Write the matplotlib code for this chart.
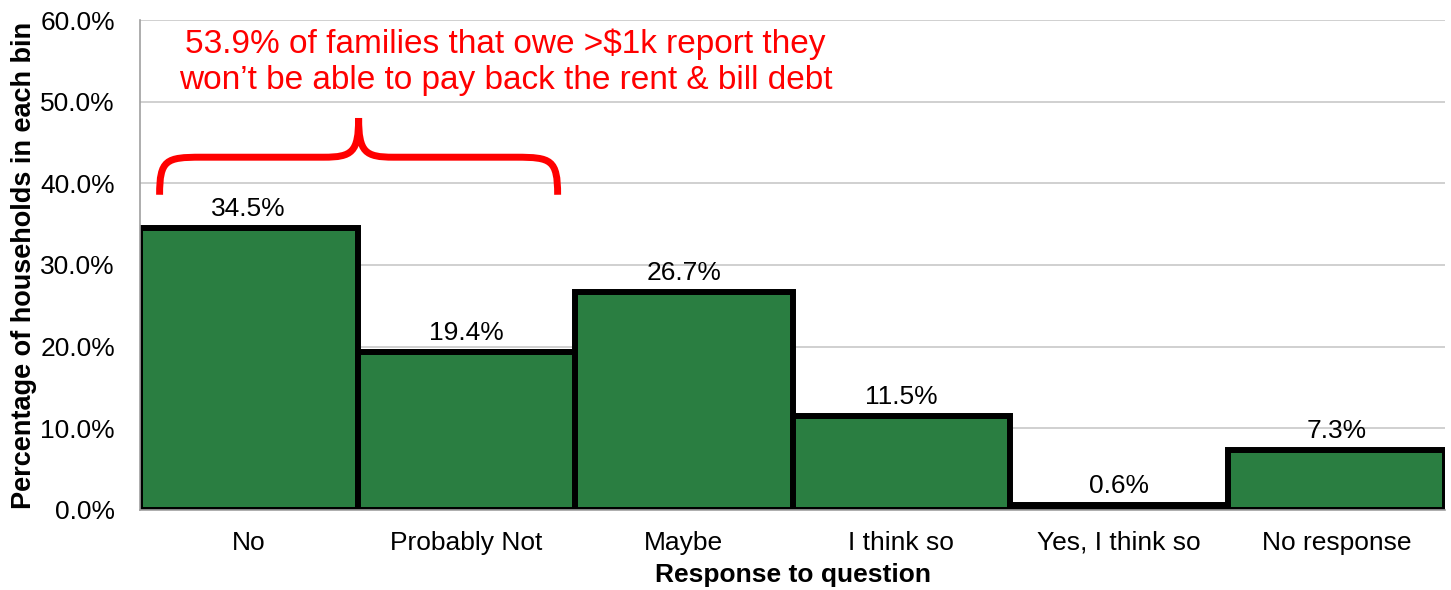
import numpy as np
import matplotlib
matplotlib.use('Agg')
import matplotlib.pyplot as plt
from matplotlib.path import Path
from matplotlib.patches import PathPatch

plt.rcParams['font.family'] = ['Liberation Sans', 'DejaVu Sans']

categories = ['No', 'Probably Not', 'Maybe', 'I think so', 'Yes, I think so', 'No response']
percent = [34.5, 19.4, 26.7, 11.5, 0.6, 7.3]
note = '53.9% of families that owe >$1k report they\nwon\u2019t be able to pay back the rent & bill debt'

fig = plt.figure(figsize=(14.51, 5.90), dpi=100)
ax = fig.add_axes([0.0965, 0.1356, 0.8994, 0.8305])

x = np.arange(len(categories))
bars = ax.bar(x, percent, width=1.0, color='#2A7E41', edgecolor='black', linewidth=4.3, zorder=3)

for xi, v in zip(x, percent):
    ax.annotate('%.1f%%' % v, (xi, v), xytext=(0, 5), textcoords='offset points',
                ha='center', va='bottom', fontsize=19, zorder=4)

ax.set_xlim(-0.5, len(categories) - 0.5)
ax.set_ylim(0, 60)
ax.set_yticks(np.arange(0, 61, 10))
ax.set_yticklabels(['%.1f%%' % t for t in np.arange(0, 61, 10)], fontsize=19)
ax.set_xticks(x)
ax.set_xticklabels(categories, fontsize=19)
ax.tick_params(axis='x', length=0, pad=15)
ax.tick_params(axis='y', length=0, pad=18)

ax.grid(axis='y', color='#c8c8c8', linewidth=1.2, zorder=0)
ax.set_axisbelow(True)
for s in ['top', 'right']:
    ax.spines[s].set_visible(False)
for s in ['left', 'bottom']:
    ax.spines[s].set_color('#a0a0a0')
    ax.spines[s].set_linewidth(1.2)
    ax.spines[s].set_zorder(5)

ax.set_xlabel('Response to question', fontsize=19, fontweight='bold', labelpad=6)
ax.set_ylabel('Percentage of households in each bin', fontsize=19.5, fontweight='bold', labelpad=2)

# curly brace over the first two bars
x0, x1 = -0.41, 1.42
xm = (x0 + x1) / 2
yb, yh, yt = 38.6, 43.2, 48.0
r = 0.19
c = 0.16
verts = [
    (x0, yb), (x0, yh - 0.3), (x0 + 0.03, yh), (x0 + r, yh),
    (xm - c, yh),
    (xm - 0.03, yh), (xm, yh + 0.6), (xm, yt),
    (xm, yh + 0.6), (xm + 0.03, yh), (xm + c, yh),
    (x1 - r, yh),
    (x1 - 0.03, yh), (x1, yh - 0.3), (x1, yb),
]
codes = [Path.MOVETO, Path.CURVE4, Path.CURVE4, Path.CURVE4,
         Path.LINETO,
         Path.CURVE4, Path.CURVE4, Path.CURVE4,
         Path.CURVE4, Path.CURVE4, Path.CURVE4,
         Path.LINETO,
         Path.CURVE4, Path.CURVE4, Path.CURVE4]
ax.add_patch(PathPatch(Path(verts, codes), facecolor='none', edgecolor='red',
                       linewidth=5, zorder=4, capstyle='butt'))

ax.text(1.18, 54.8, note, color='red', fontsize=24, ha='center', va='center',
        linespacing=1.2, zorder=4)

plt.savefig('out.png', dpi=100)
